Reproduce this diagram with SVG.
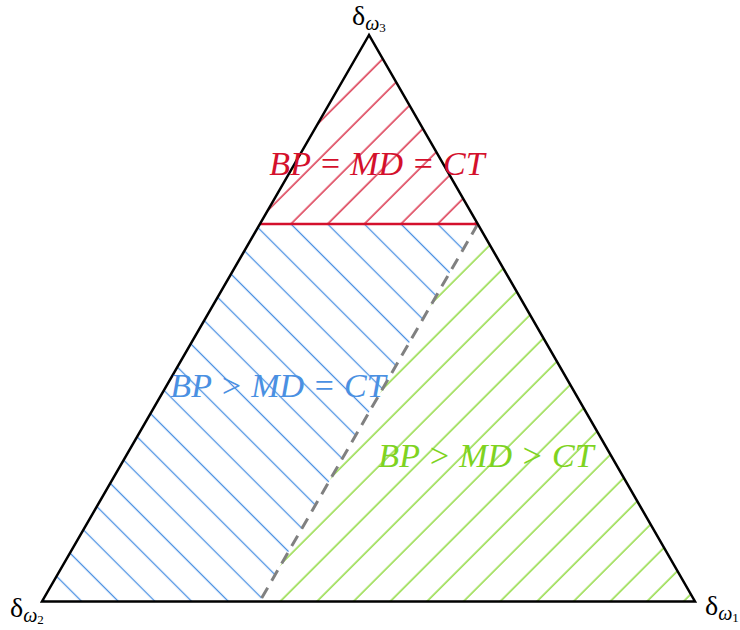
<svg xmlns="http://www.w3.org/2000/svg" width="740" height="630" viewBox="0 0 740 630">
<style>
.lbl{font-family:"Liberation Serif","DejaVu Serif",serif;fill:#000}
.w{font-style:italic}
.reg{font-family:"Liberation Serif","DejaVu Serif",serif;font-style:italic;font-size:34px}
</style>
<defs>
<pattern id="hr" patternUnits="userSpaceOnUse" width="25.93" height="40" patternTransform="rotate(45)">
<rect x="0.47" y="0" width="1.3" height="40" fill="#d4102c"/>
</pattern>
<pattern id="hg" patternUnits="userSpaceOnUse" width="25.93" height="40" patternTransform="rotate(45)">
<rect x="0.47" y="0" width="1.3" height="40" fill="#7ed321"/>
</pattern>
<pattern id="hb" patternUnits="userSpaceOnUse" width="25.93" height="40" patternTransform="rotate(-45)">
<rect x="20.78" y="0" width="1.3" height="40" fill="#4a90e2"/>
</pattern>
</defs>
<g id="regions">
<polygon id="region-red" points="369,35 260.2,224 477.8,224" fill="url(#hr)"/>
<polygon id="region-blue" points="260.2,224 477.8,224 259.7,601.5 42,601.5" fill="url(#hb)"/>
<polygon id="region-green" points="477.8,224 695,601.5 259.7,601.5" fill="url(#hg)"/>
</g>
<g id="connectors">
<line x1="477.8" y1="224" x2="259.7" y2="601.5" stroke="#808080" stroke-width="3" stroke-dasharray="12,8"/>
<line x1="260.2" y1="224" x2="477.8" y2="224" stroke="#d4102c" stroke-width="2.5"/>
<polygon points="369,35 42,601.5 695,601.5" fill="none" stroke="#000" stroke-width="2.5" stroke-linejoin="miter"/>
</g>
<g id="texts">
<text class="reg" x="377" y="175" text-anchor="middle" fill="#d4102c">BP = MD = CT</text>
<text class="reg" x="278" y="397" text-anchor="middle" fill="#4a90e2">BP &gt; MD = CT</text>
<text class="reg" x="486" y="467" text-anchor="middle" fill="#7ed321">BP &gt; MD &gt; CT</text>
</g>
<g id="label-w3"><text class="lbl" x="352" y="25" font-size="28">δ<tspan class="w" font-size="20" dy="5">ω</tspan><tspan font-size="13" dy="2">3</tspan></text></g>
<g id="label-w2"><text class="lbl" x="10" y="617" font-size="28">δ<tspan class="w" font-size="20" dy="5">ω</tspan><tspan font-size="13" dy="2">2</tspan></text></g>
<g id="label-w1"><text class="lbl" x="705" y="615" font-size="28">δ<tspan class="w" font-size="20" dy="5">ω</tspan><tspan font-size="13" dy="2">1</tspan></text></g>
</svg>
